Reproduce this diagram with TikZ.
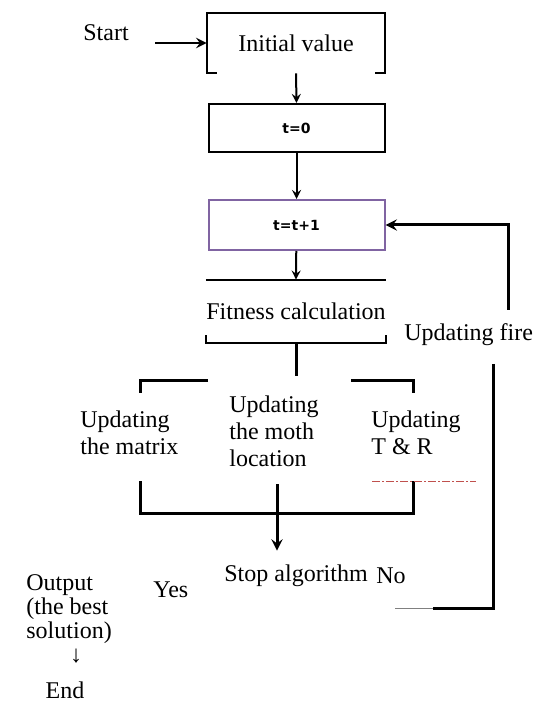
\documentclass[tikz,border=0pt]{standalone}
\usepackage{fontspec}
\setmainfont{Liberation Serif}
\newfontfamily\boxfont{DejaVu Sans}
\usetikzlibrary{arrows,positioning}

\definecolor{boxpurple}{RGB}{128,100,162}
\definecolor{guidered}{RGB}{192,80,77}

\begin{document}
\begin{tikzpicture}[
    x=0.5pt, y=-0.5pt,
    % Define styles for the flowchart parts
    stepbox/.style={draw, line width=1pt, minimum width=88pt, minimum height=24pt, inner sep=0pt, font=\boxfont\bfseries\fontsize{7}{8}\selectfont},
    frame/.style={inner sep=0pt, minimum width=89pt, font=\fontsize{12}{13.5}\selectfont},
    plain/.style={inner sep=0pt, align=left, font=\fontsize{12}{13.5}\selectfont},
    arrow/.style={->, >=stealth, line width=1pt},
    bar/.style={line width=1.5pt},
    guide/.style={draw=guidered, line width=0.5pt, dash pattern=on 4pt off 1pt on 1pt off 1pt}
]

% Fix the page size
\useasboundingbox (0,0) rectangle (538,704);

% Start and initial value
\node[plain] (start) at (106,33) {Start};
\node[frame, minimum height=30pt] (init) at (296,43) {Initial value};
\coordinate (startin) at (155,43);
\draw[arrow, line width=1.3pt] (startin) -- (init.west);
\draw[line width=1pt] ([xshift=5pt]init.south west) -- (init.south west) -- (init.north west) -- (init.north east) -- (init.south east) -- ([xshift=-5pt]init.south east);

% Counter steps
\node[stepbox] (tzero) at (296.5,128) {t=0};
\node[stepbox, draw=boxpurple, minimum height=25pt] (tnext) at (296.5,225) {t=t+1};
\draw[arrow] (init.south) -- (tzero.north);
\draw[arrow] (tzero) -- (tnext);

% Fitness calculation - open frame
\node[frame, minimum height=31.5pt] (fitness) at (296,311.5) {Fitness calculation};
\draw[arrow] (tnext) -- (fitness.north);
\draw[line width=1pt] (fitness.north west) -- (fitness.north east);
\draw[line width=1pt] ([yshift=4pt]fitness.south west) -- (fitness.south west) -- (fitness.south east) -- ([yshift=4pt]fitness.south east);

% Three updating steps
\node[plain, anchor=west] (upmatrix) at (80,433) {Updating\\the matrix};
\node[plain, anchor=west] (upmoth) at (229,431) {Updating\\the moth\\location};
\node[plain, anchor=west] (uptr) at (371,433) {Updating\\T \& R};

\coordinate (split) at (296,376);
\coordinate (lefttop) at (140,380);
\coordinate (righttop) at (413,380);
\coordinate (leftbot) at (140,481);
\coordinate (rightbot) at (413,481);
\coordinate (midbot) at (277,484);
\coordinate (join) at (277,513);

\draw[bar] (fitness.south) -- (split);
\draw[bar] ([xshift=34pt]lefttop) -- (lefttop) -- ++(0,13);
\draw[bar] ([xshift=-31pt]righttop) -- (righttop) -- ++(0,13);
\draw[bar] (leftbot) |- (join);
\draw[bar] (rightbot) |- (join);
\draw[bar] (midbot) -- (join);
\draw[guide] (372,481) -- (476,481);

% Stop test
\node[plain, anchor=west, inner ysep=7pt] (stopalg) at (224,576) {Stop algorithm};
\node[plain, anchor=west] (no) at (376,576) {No};
\node[plain, anchor=west] (yes) at (153,590) {Yes};
\draw[arrow, line width=1.5pt] (join) -- (stopalg.north -| join);

% Output and end
\node[plain, anchor=west, font=\fontsize{12}{12}\selectfont] (output) at (26,609) {Output\\(the best\\solution)};
\node[plain, font=\bfseries\fontsize{12}{12}\selectfont] (downmark) at (76,656) {↓};
\node[plain] (endnode) at (65,690) {End};

% Loop back to the counter
\node[plain, anchor=west] (fire) at (404,335) {Updating fire};
\coordinate (loopup) at (508,310);
\coordinate (looptop) at (493,364);
\coordinate (loopbot) at (433,608);
\coordinate (loopend) at (395,608);
\draw[arrow, line width=1.5pt] (loopup) |- (tnext.east);
\draw[bar] (looptop) |- (loopbot);
\draw[gray, line width=0.5pt] (loopbot) -- (loopend);

\end{tikzpicture}
\end{document}
